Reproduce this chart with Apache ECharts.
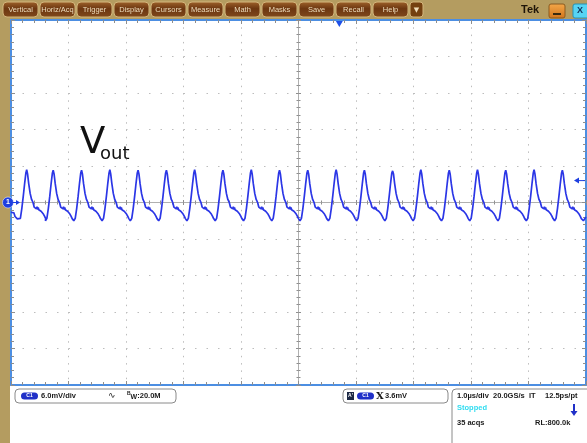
<!DOCTYPE html>
<html>
<head>
<meta charset="utf-8">
<script src="https://cdn.jsdelivr.net/npm/echarts@6/dist/echarts.min.js"></script>
<style>
  html, body { margin: 0; padding: 0; background: #fff; }
  #scope { width: 587px; height: 443px; }
</style>
</head>
<body>
<div id="scope"></div>
<script>
// screen: 1.0 us/div across, 6.0 mV/div up, 10 x 10 divisions
const timeRange = [-5, 5];
const timeDiv = 1;
const voltRange = [-30, 30];
const voltDiv = 6;

// time (us) of every ripple peak
const peakTimes = [-4.727, -4.266, -3.773, -3.281, -2.790, -2.297, -1.806, -1.314, -0.821, -0.330,
                   0.161, 0.655, 1.146, 1.637, 2.128, 2.622, 3.113, 3.604, 4.097, 4.589];
// height of every ripple peak (mV)
const peakLevels = [5.4, 5.3, 5.3, 5.4, 5.3, 5.3, 5.4, 5.3, 5.4, 5.3,
                    5.3, 5.4, 5.3, 5.2, 5.4, 5.3, 5.4, 5.3, 5.4, 5.3];
// one ripple around its peak: offset from the peak (us) and level (mV), noisy shoulder included
const cycleOffsets = [-0.135, -0.11, -0.085, -0.06, -0.035, -0.015, 0, 0.015, 0.035, 0.06, 0.085, 0.11,
                      0.12, 0.13, 0.14, 0.15, 0.16, 0.17, 0.18, 0.19, 0.20, 0.21, 0.22, 0.23,
                      0.24, 0.25, 0.26, 0.27, 0.28, 0.29, 0.30, 0.31, 0.32, 0.33, 0.34];
const cycleLevels = [-3.0, -2.6, -1.0, 1.0, 3.2, 4.8, 5.3, 4.7, 3.1, 1.5, 0.5, 0.0,
                     -0.25, -0.75, -0.5, -0.95, -0.6, -1.05, -0.7, -1.15, -0.8, -1.2, -0.9, -1.3,
                     -1.0, -1.45, -1.2, -1.65, -1.4, -1.9, -1.7, -2.25, -2.1, -2.65, -2.55];
// trace before the first ripple and after the last one
const leadIn = [[-5, -1.6], [-4.99, -1.3], [-4.97, -1.9], [-4.95, -1.7], [-4.93, -2.3], [-4.91, -2.2], [-4.89, -2.7]];
const tailOut = [[4.955, -3.0], [4.975, -2.8], [5, -2.4]];

const trigLevel = 3.6;   // mV
const trigTime = 0.71;   // us

const menuItems = ['Vertical', 'Horiz/Acq', 'Trigger', 'Display', 'Cursors', 'Measure',
                   'Math', 'Masks', 'Save', 'Recall', 'Help'];

const trace = [];
leadIn.forEach(p => trace.push(p));
peakTimes.forEach((t0, k) => {
  cycleOffsets.forEach((dt, i) => {
    trace.push([+(t0 + dt).toFixed(4), dt === 0 ? peakLevels[k] : cycleLevels[i]]);
  });
});
tailOut.forEach(p => trace.push(p));

const borderBlue = '#4c8ee2';
const traceBlue = '#2b36e6';
const tan = '#b49c60';
const tickStyle = { color: '#8e8e8e', width: 1 };
const font = '"Liberation Sans", Arial, sans-serif';

function xAxisAt(position, onZero, lineColor, lineWidth, split) {
  return {
    type: 'value', min: timeRange[0], max: timeRange[1], interval: timeDiv,
    position: position,
    axisLine: { show: true, onZero: onZero, onZeroAxisIndex: 0, lineStyle: { color: lineColor, width: lineWidth } },
    axisTick: { show: true, inside: true, length: onZero ? 2.5 : 4, lineStyle: tickStyle },
    minorTick: { show: true, splitNumber: 5, length: onZero ? 2 : 3, lineStyle: tickStyle },
    axisLabel: { show: false },
    splitLine: { show: split, lineStyle: { color: '#bdbdbd', width: 1, type: [1.5, 5.8] } },
    minorSplitLine: { show: false }
  };
}
function yAxisAt(position, onZero, lineColor, lineWidth, split) {
  return {
    type: 'value', min: voltRange[0], max: voltRange[1], interval: voltDiv,
    position: position,
    axisLine: { show: true, onZero: onZero, onZeroAxisIndex: 0, lineStyle: { color: lineColor, width: lineWidth } },
    axisTick: { show: true, inside: true, length: onZero ? 2.5 : 4, lineStyle: tickStyle },
    minorTick: { show: true, splitNumber: 5, length: onZero ? 2 : 3, lineStyle: tickStyle },
    axisLabel: { show: false },
    splitLine: { show: split, lineStyle: { color: '#bdbdbd', width: 1, type: [1.5, 10.0] } },
    minorSplitLine: { show: false }
  };
}

const chrome = [
  { type: 'rect', shape: { x: 0, y: 0, width: 587, height: 19 }, style: { fill: tan } },
  { type: 'rect', shape: { x: 0, y: 0, width: 10, height: 443 }, style: { fill: tan } }
];
menuItems.forEach((label, i) => {
  const x = 3 + i * 37;
  chrome.push({
    type: 'rect', shape: { x: x, y: 2, width: 35, height: 15, r: 4 },
    style: {
      fill: new echarts.graphic.LinearGradient(0, 0, 0, 1, [
        { offset: 0, color: '#a0642c' }, { offset: 0.45, color: '#6c3610' }, { offset: 1, color: '#80491c' }
      ]),
      stroke: '#d4b67c', lineWidth: 1
    }
  });
  chrome.push({
    type: 'text', x: x + 17.5, y: 10,
    style: { text: label, fill: '#f0dfbe', font: '7.5px ' + font, align: 'center', verticalAlign: 'middle' }
  });
});
chrome.push(
  { type: 'rect', shape: { x: 410, y: 2, width: 13, height: 15, r: 3 },
    style: { fill: '#74400f', stroke: '#d4b67c', lineWidth: 1 } },
  { type: 'text', x: 416.5, y: 10, style: { text: '▼', fill: '#efdcb8', font: '7px "DejaVu Sans"', align: 'center', verticalAlign: 'middle' } },
  { type: 'text', x: 521, y: 10, style: { text: 'Tek', fill: '#1e1408', font: 'bold 11px ' + font, verticalAlign: 'middle' } },
  { type: 'rect', shape: { x: 549, y: 4, width: 16, height: 14, r: 2 },
    style: { fill: new echarts.graphic.LinearGradient(0, 0, 0, 1, [{ offset: 0, color: '#f4a84a' }, { offset: 1, color: '#d2741a' }]),
             stroke: '#8a5a20', lineWidth: 1 } },
  { type: 'rect', shape: { x: 553, y: 13, width: 8, height: 2 }, style: { fill: '#3a2a10' } },
  { type: 'rect', shape: { x: 573, y: 4, width: 16, height: 14, r: 2 },
    style: { fill: '#56d4f4', stroke: '#2a90b0', lineWidth: 1 } },
  { type: 'text', x: 580, y: 11, style: { text: 'X', fill: '#10305a', font: 'bold 9px ' + font, align: 'center', verticalAlign: 'middle' } },

  // trace label
  { type: 'text', x: 80, y: 143.5, style: { text: 'V', fill: '#111', font: '37px "DejaVu Sans"', verticalAlign: 'middle' } },
  { type: 'text', x: 100, y: 154.5, style: { text: 'out', fill: '#111', font: '18px "DejaVu Sans"', verticalAlign: 'middle' } },

  // channel readout
  { type: 'rect', shape: { x: 15, y: 389, width: 161, height: 14, r: 4 }, style: { fill: '#fff', stroke: '#8a8a8a', lineWidth: 1 } },
  { type: 'rect', shape: { x: 21, y: 392.5, width: 17, height: 7, r: 3.5 }, style: { fill: '#2030c8' } },
  { type: 'text', x: 29.5, y: 396, style: { text: 'C1', fill: '#fff', font: 'bold 5px ' + font, align: 'center', verticalAlign: 'middle' } },
  { type: 'text', x: 41, y: 396, style: { text: '6.0mV/div', fill: '#1a1a1a', font: 'bold 7.5px ' + font, verticalAlign: 'middle' } },
  { type: 'text', x: 108, y: 396, style: { text: '∿', fill: '#1a1a1a', font: '9px "DejaVu Sans"', verticalAlign: 'middle' } },
  { type: 'text', x: 127, y: 396, style: {
      text: '{b|B}{w|W}{n|:20.0M}', verticalAlign: 'middle',
      rich: { b: { fontSize: 5, fontWeight: 'bold', fill: '#1a1a1a', padding: [0, 0, 5, 0] },
              w: { fontSize: 7, fontWeight: 'bold', fill: '#1a1a1a', padding: [2, 0, 0, 0] },
              n: { fontSize: 7.5, fontWeight: 'bold', fill: '#1a1a1a' } } } },

  // trigger readout
  { type: 'rect', shape: { x: 343, y: 389, width: 105, height: 14, r: 4 }, style: { fill: '#fff', stroke: '#8a8a8a', lineWidth: 1 } },
  { type: 'rect', shape: { x: 347, y: 392, width: 7, height: 8 }, style: { fill: '#1c2844' } },
  { type: 'text', x: 350.5, y: 396, style: { text: "A'", fill: '#fff', font: 'bold 5px ' + font, align: 'center', verticalAlign: 'middle' } },
  { type: 'rect', shape: { x: 357, y: 392.5, width: 17, height: 7, r: 3.5 }, style: { fill: '#2030c8' } },
  { type: 'text', x: 365.5, y: 396, style: { text: 'C1', fill: '#fff', font: 'bold 5px ' + font, align: 'center', verticalAlign: 'middle' } },
  { type: 'text', x: 376, y: 396.5, style: { text: 'X', fill: '#1a1a1a', font: 'bold 10px "DejaVu Serif"', verticalAlign: 'middle' } },
  { type: 'text', x: 385, y: 396, style: { text: '3.6mV', fill: '#1a1a1a', font: 'bold 7.5px ' + font, verticalAlign: 'middle' } },

  // acquisition readout
  { type: 'rect', shape: { x: 452, y: 389, width: 140, height: 62, r: 4 }, style: { fill: '#fff', stroke: '#8a8a8a', lineWidth: 1 } },
  { type: 'text', x: 457, y: 396, style: { text: '1.0µs/div', fill: '#1a1a1a', font: 'bold 7.5px ' + font, verticalAlign: 'middle' } },
  { type: 'text', x: 493, y: 396, style: { text: '20.0GS/s', fill: '#1a1a1a', font: 'bold 7.5px ' + font, verticalAlign: 'middle' } },
  { type: 'text', x: 529, y: 396, style: { text: 'IT', fill: '#1a1a1a', font: 'bold 7.5px ' + font, verticalAlign: 'middle' } },
  { type: 'text', x: 545, y: 396, style: { text: '12.5ps/pt', fill: '#1a1a1a', font: 'bold 7.5px ' + font, verticalAlign: 'middle' } },
  { type: 'text', x: 457, y: 408, style: { text: 'Stopped', fill: '#2fdcf0', font: 'bold 7.5px ' + font, verticalAlign: 'middle' } },
  { type: 'rect', shape: { x: 573, y: 404, width: 2, height: 8 }, style: { fill: '#2030c8' } },
  { type: 'polygon', shape: { points: [[570.5, 411], [577.5, 411], [574, 416]] }, style: { fill: '#2030c8' } },
  { type: 'text', x: 457, y: 423, style: { text: '35 acqs', fill: '#1a1a1a', font: 'bold 7.5px ' + font, verticalAlign: 'middle' } },
  { type: 'text', x: 535, y: 423, style: { text: 'RL:800.0k', fill: '#1a1a1a', font: 'bold 7.5px ' + font, verticalAlign: 'middle' } }
);

const option = {
  animation: false,
  backgroundColor: '#fff',
  grid: { left: 11, top: 20, width: 575, height: 365, containLabel: false },
  xAxis: [
    xAxisAt('bottom', false, borderBlue, 2, true),
    xAxisAt('top', false, borderBlue, 2, false),
    xAxisAt('bottom', true, '#b0b0b0', 1, false),
    xAxisAt('top', true, '#b0b0b0', 1, false)
  ],
  yAxis: [
    yAxisAt('left', false, borderBlue, 2, true),
    yAxisAt('right', false, borderBlue, 2, false),
    yAxisAt('left', true, '#b0b0b0', 1, false),
    yAxisAt('right', true, '#b0b0b0', 1, false)
  ],
  graphic: chrome,
  series: [{
    name: 'C1',
    type: 'line',
    xAxisIndex: 0,
    yAxisIndex: 0,
    data: trace,
    symbol: 'none',
    clip: true,
    lineStyle: { color: traceBlue, width: 1.7 },
    z: 5
  }]
};

const chart = echarts.init(document.getElementById('scope'));
chart.setOption(option);

// markers placed through the axes' own scales
const zeroY = chart.convertToPixel({ yAxisIndex: 0 }, 0);
const levelY = chart.convertToPixel({ yAxisIndex: 0 }, trigLevel);
const trigX = chart.convertToPixel({ xAxisIndex: 0 }, trigTime);
chart.setOption({
  graphic: chrome.concat([
    { type: 'circle', shape: { cx: 8, cy: zeroY, r: 5.5 }, style: { fill: '#1e3fe0', stroke: '#fff', lineWidth: 0.5 }, z: 10 },
    { type: 'text', x: 8, y: zeroY, z: 11, style: { text: '1', fill: '#fff', font: 'bold 7px ' + font, align: 'center', verticalAlign: 'middle' } },
    { type: 'rect', shape: { x: 13, y: zeroY - 0.5, width: 4, height: 1 }, style: { fill: '#1e3fe0' }, z: 10 },
    { type: 'polygon', shape: { points: [[16, zeroY - 2.5], [20, zeroY], [16, zeroY + 2.5]] }, style: { fill: '#1e3fe0' }, z: 10 },
    { type: 'polygon', shape: { points: [[574, levelY], [579, levelY - 3], [579, levelY + 3]] }, style: { fill: '#1e3fe0' }, z: 10 },
    { type: 'rect', shape: { x: 578, y: levelY - 0.5, width: 7, height: 1 }, style: { fill: '#1e3fe0' }, z: 10 },
    { type: 'polygon', shape: { points: [[trigX - 3.5, 21], [trigX + 3.5, 21], [trigX, 27]] }, style: { fill: '#1e50e8' }, z: 10 }
  ])
}, { replaceMerge: ['graphic'] });
</script>
</body>
</html>
